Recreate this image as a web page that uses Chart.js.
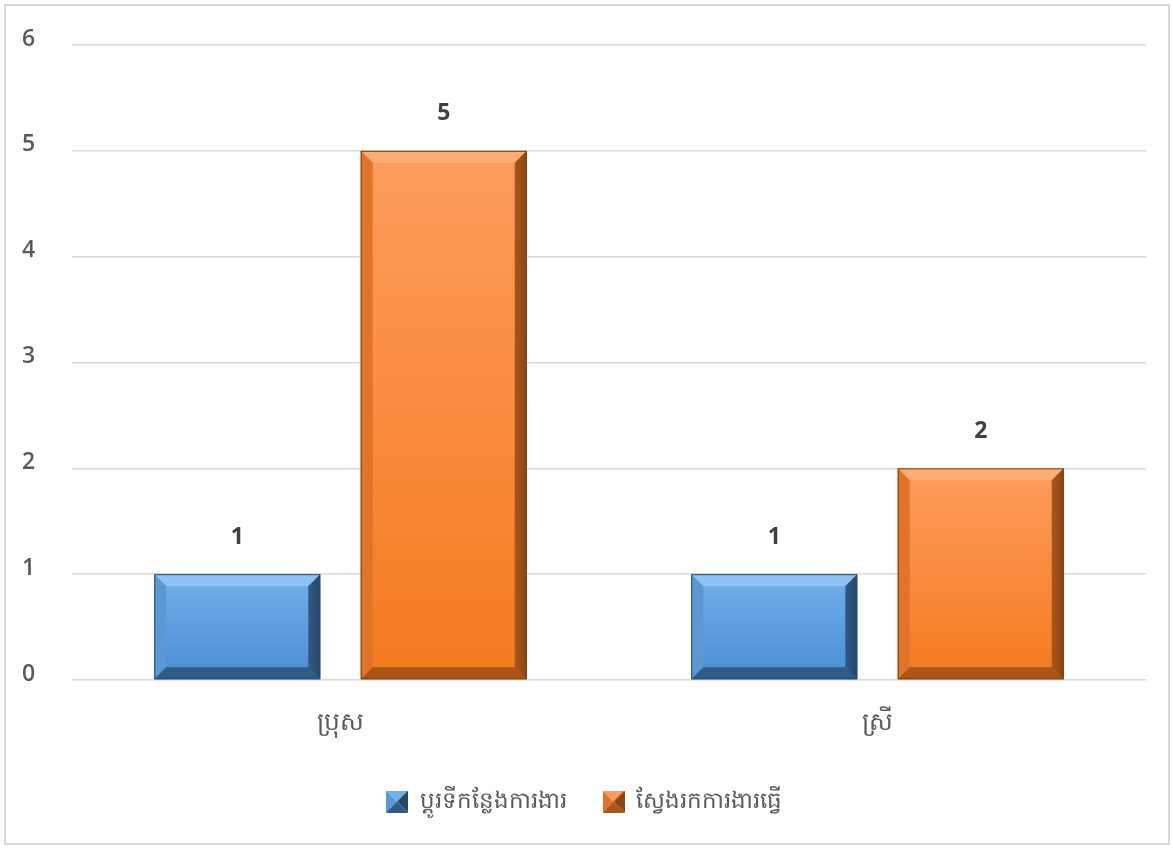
<!DOCTYPE html>
<html>
<head>
<meta charset="utf-8">
<script src="https://cdn.jsdelivr.net/npm/chart.js@4.4.1/dist/chart.umd.min.js"></script>
<style>
  html, body { margin: 0; padding: 0; background: #fff; }
  #wrap { position: absolute; left: 0; top: 0; width: 1173px; height: 848px; }
</style>
</head>
<body>
<div id="wrap"><canvas id="chart"></canvas></div>
<script>
const categories = ["ប្រុស", "ស្រី"];
const seriesNames = ["ប្ដូរទីកន្លែងការងារ", "ស្វែងរកការងារធ្វើ"];
const moveWork = [1, 1];
const findWork = [5, 2];
const yTicks = [0, 1, 2, 3, 4, 5, 6];

const FONT = "'Open Sans', 'Noto Sans', 'DejaVu Sans', sans-serif";

// bevel colours per series
const palettes = [
  { hi: "#72b0ea", lo: "#4a8dd2", top: "#8ec2f2", left: "#5b97d2", right: "#26466a", bottom: "#2f5b88", edge: "#2a4a6c" },
  { hi: "#fd9c5c", lo: "#f47a1e", top: "#fdac76", left: "#e2742a", right: "#8a4615", bottom: "#a9561a", edge: "#7a3f10" }
];

function bevelRect(ctx, l, t, r, b, p, bev) {
  const g = ctx.createLinearGradient(0, t, 0, b);
  g.addColorStop(0, p.hi);
  g.addColorStop(1, p.lo);
  ctx.fillStyle = g;
  ctx.fillRect(l, t, r - l, b - t);
  const poly = (pts, c) => {
    ctx.beginPath();
    ctx.moveTo(pts[0][0], pts[0][1]);
    for (let i = 1; i < pts.length; i++) ctx.lineTo(pts[i][0], pts[i][1]);
    ctx.closePath();
    ctx.fillStyle = c;
    ctx.fill();
  };
  poly([[l, t], [r, t], [r - bev, t + bev], [l + bev, t + bev]], p.top);
  poly([[l, t], [l + bev, t + bev], [l + bev, b - bev], [l, b]], p.left);
  const rg = ctx.createLinearGradient(r - bev, 0, r, 0);
  rg.addColorStop(0, p.bottom);
  rg.addColorStop(1, p.right);
  poly([[r, t], [r, b], [r - bev, b - bev], [r - bev, t + bev]], rg);
  poly([[l, b], [l + bev, b - bev], [r - bev, b - bev], [r, b]], p.bottom);
  ctx.strokeStyle = p.edge;
  ctx.lineWidth = 1;
  ctx.strokeRect(l + 0.5, t + 0.5, r - l - 1, b - t - 1);
}

function legendIcon(p) {
  const c = document.createElement("canvas");
  c.width = 22; c.height = 22;
  const x = c.getContext("2d");
  const tri = (pts, col) => {
    x.beginPath(); x.moveTo(pts[0][0], pts[0][1]);
    pts.slice(1).forEach(q => x.lineTo(q[0], q[1]));
    x.closePath(); x.fillStyle = col; x.fill();
  };
  tri([[0, 0], [22, 0], [11, 11]], p.hi);
  tri([[0, 0], [11, 11], [0, 22]], p.left);
  tri([[22, 0], [22, 22], [11, 11]], p.right);
  tri([[0, 22], [11, 11], [22, 22]], p.bottom);
  return c;
}

const bevelBars = {
  id: "bevelBars",
  afterDatasetsDraw(chart) {
    const ctx = chart.ctx;
    chart.data.datasets.forEach((ds, i) => {
      const meta = chart.getDatasetMeta(i);
      meta.data.forEach((bar, j) => {
        const l = bar.x - bar.width / 2, r = bar.x + bar.width / 2;
        const t = bar.y, b = bar.base;
        ctx.save();
        bevelRect(ctx, l, t, r, b, palettes[i], 12);
        ctx.fillStyle = "#404040";
        ctx.font = "bold 23px " + FONT;
        ctx.textAlign = "center";
        ctx.textBaseline = "middle";
        ctx.fillText(String(ds.data[j]), bar.x, t - 37);
        ctx.restore();
      });
    });
  }
};

const frame = {
  id: "frame",
  beforeDraw(chart) {
    const ctx = chart.ctx;
    ctx.save();
    ctx.fillStyle = "#fff";
    ctx.fillRect(0, 0, chart.width, chart.height);
    ctx.strokeStyle = "#d9d9d9";
    ctx.lineWidth = 2;
    ctx.strokeRect(5, 5, chart.width - 9, chart.height - 9);
    ctx.restore();
  }
};

new Chart(document.getElementById("chart"), {
  type: "bar",
  data: {
    labels: categories,
    datasets: [
      { label: seriesNames[0], data: moveWork, backgroundColor: "rgba(0,0,0,0)", pointStyle: legendIcon(palettes[0]) },
      { label: seriesNames[1], data: findWork, backgroundColor: "rgba(0,0,0,0)", pointStyle: legendIcon(palettes[1]) }
    ]
  },
  options: {
    responsive: true,
    maintainAspectRatio: false,
    animation: false,
    categoryPercentage: 0.769,
    barPercentage: 0.804,
    layout: { padding: { left: 22, right: 27, top: 45, bottom: 25 } },
    plugins: {
      legend: {
        position: "bottom",
        labels: {
          usePointStyle: true,
          boxWidth: 22,
          boxHeight: 22,
          padding: 36,
          color: "#595959",
          font: { family: FONT, size: 23 }
        }
      },
      tooltip: { enabled: false }
    },
    scales: {
      x: {
        afterFit: (s) => { s.height -= 4; },
        grid: { display: false },
        border: { display: false },
        ticks: { color: "#595959", font: { family: FONT, size: 25 }, padding: 20 }
      },
      y: {
        min: 0,
        max: 6,
        afterFit: (s) => { s.width = 50; },
        afterBuildTicks: (s) => { s.ticks = yTicks.map(v => ({ value: v })); },
        grid: { color: "#d9d9d9", lineWidth: 1.5, drawTicks: false },
        border: { display: false },
        ticks: { crossAlign: "far", labelOffset: -6, color: "#595959", font: { family: FONT, size: 23, weight: "600" }, padding: 0 }
      }
    }
  },
  plugins: [frame, bevelBars]
});
</script>
</body>
</html>
